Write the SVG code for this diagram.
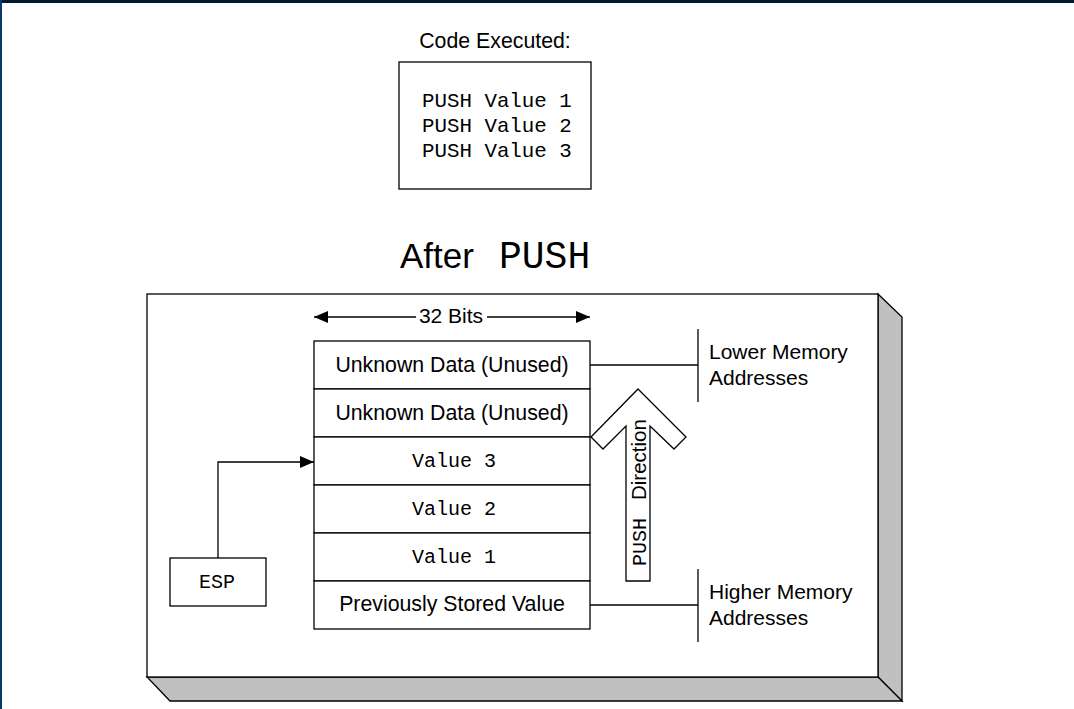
<svg xmlns="http://www.w3.org/2000/svg" width="1074" height="709" viewBox="0 0 1074 709">
<defs>
<style>
.ln{stroke:#000;stroke-width:1.3;fill:none}
.bx{stroke:#000;stroke-width:1.3;fill:#fff}
.sh{fill:#c0c0c0;stroke:#000;stroke-width:1.3;stroke-linejoin:miter}
.sans{font-family:"Liberation Sans",Arial,sans-serif;font-size:21px;fill:#000}
.mono{font-family:"Liberation Mono","Courier New",monospace;font-size:20px;fill:#000}
.code{font-size:20.8px}
.big{font-size:21.3px}
.c{text-anchor:middle}
</style>
<marker id="ah" viewBox="0 0 14 12" refX="14" refY="6" markerWidth="14" markerHeight="12" markerUnits="userSpaceOnUse" orient="auto-start-reverse">
<path d="M0,0 L14,6 L0,12 Z" fill="#000"/>
</marker>
</defs>
<rect x="0" y="0" width="1074" height="709" fill="#fff"/>
<rect x="0" y="0" width="1074" height="3" fill="#001a33"/>
<rect x="0" y="0" width="2" height="709" fill="#0a3a6b"/>

<g id="code">
<text class="sans c" x="495" y="48" style="font-size:21.3px">Code Executed:</text>
<rect class="bx" x="399" y="62" width="192" height="127"/>
<text class="mono code" x="422" y="107">PUSH Value 1</text>
<text class="mono code" x="422" y="132">PUSH Value 2</text>
<text class="mono code" x="422" y="157">PUSH Value 3</text>
</g>

<g id="title">
<text x="400" y="268" style="font-family:'Liberation Sans',Arial,sans-serif;font-size:35px">After</text>
<text x="499" y="268" style="font-family:'Liberation Mono','Courier New',monospace;font-size:38px">PUSH</text>
</g>

<g id="frame">
<polygon class="sh" points="878,294 902,317 902,701 878,677"/>
<polygon class="sh" points="147,677 878,677 902,701 170,701"/>
<rect class="bx" x="147" y="294" width="731" height="383"/>
</g>

<g id="stack">
<rect class="bx" x="314" y="341" width="276" height="48"/>
<rect class="bx" x="314" y="389" width="276" height="48"/>
<rect class="bx" x="314" y="437" width="276" height="48"/>
<rect class="bx" x="314" y="485" width="276" height="48"/>
<rect class="bx" x="314" y="533" width="276" height="48"/>
<rect class="bx" x="314" y="581" width="276" height="48"/>
<text class="sans big c" x="452" y="372">Unknown Data (Unused)</text>
<text class="sans big c" x="452" y="420">Unknown Data (Unused)</text>
<text class="mono c" x="454" y="467">Value 3</text>
<text class="mono c" x="454" y="515">Value 2</text>
<text class="mono c" x="454" y="563">Value 1</text>
<text class="sans big c" x="452" y="611">Previously Stored Value</text>
</g>

<g id="esp">
<rect class="bx" x="170" y="558" width="96" height="48"/>
<text class="mono c" x="217" y="588">ESP</text>
</g>

<g id="push-direction">
<polygon class="bx" points="638,389 686,437 674,449 650,426 650,581 626,581 626,426 603,449 591,437"/>
<text transform="translate(646,566) rotate(-90)" style="font-family:'Liberation Mono','Courier New',monospace;font-size:20px">PUSH</text>
<text transform="translate(646,500) rotate(-90)" style="font-family:'Liberation Sans',Arial,sans-serif;font-size:20.5px">Direction</text>
</g>

<g id="lower-mem">
<text class="sans" x="709" y="359">Lower Memory</text>
<text class="sans" x="709" y="385">Addresses</text>
</g>
<g id="higher-mem">
<text class="sans" x="709" y="599">Higher Memory</text>
<text class="sans" x="709" y="625">Addresses</text>
</g>

<g id="connectors">
<line class="ln" x1="416" y1="317" x2="314" y2="317" marker-end="url(#ah)"/>
<line class="ln" x1="487" y1="317" x2="590" y2="317" marker-end="url(#ah)"/>
<text class="sans c" x="451" y="323">32 Bits</text>
<polyline class="ln" points="218,558 218,462 314,462" marker-end="url(#ah)"/>
<line class="ln" x1="590" y1="365" x2="698" y2="365"/>
<line class="ln" x1="698" y1="329" x2="698" y2="402"/>
<line class="ln" x1="590" y1="605" x2="698" y2="605"/>
<line class="ln" x1="698" y1="569" x2="698" y2="642"/>
</g>
</svg>
